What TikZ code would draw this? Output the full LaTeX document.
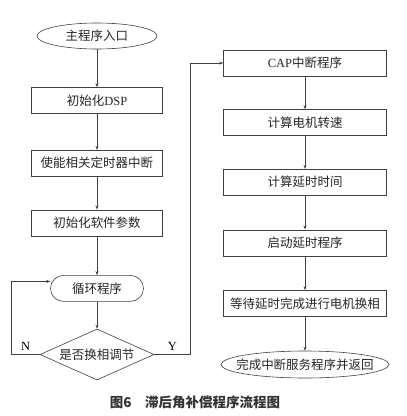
\documentclass[tikz,border=0pt]{standalone}
\usepackage{fontspec}
\setmainfont{Liberation Serif}
\newfontfamily\cjk{Noto Sans CJK SC}
\usetikzlibrary{
  shapes.geometric,
  arrows.meta,
  positioning
}
\tikzset{
  procnode/.style={rectangle,draw=black!75,line width=0.6pt,
    minimum width=131pt,minimum height=26pt,inner sep=2pt,
    font=\cjk\fontsize{12.5}{14}\selectfont,text=black!85},
  termnode/.style={ellipse,draw=black!75,line width=0.6pt,
    minimum width=120pt,minimum height=26pt,inner sep=0pt,
    font=\cjk\fontsize{12.5}{14}\selectfont,text=black!85},
  loopnode/.style={rectangle,rounded corners=13pt,draw=black!75,line width=0.6pt,
    minimum width=93pt,minimum height=26pt,inner sep=2pt,
    font=\cjk\fontsize{12.5}{14}\selectfont,text=black!85},
  decnode/.style={diamond,aspect=2.2,draw=black!75,line width=0.6pt,
    minimum width=114pt,minimum height=51pt,inner sep=0pt,
    font=\cjk\fontsize{12.5}{14}\selectfont,text=black!85},
  arr/.style={-{Stealth[length=4pt,width=3pt]},draw=black!75,line width=0.6pt}
}

\begin{document}
\begin{tikzpicture}[x=1pt,y=1pt,node distance=34pt]
  \useasboundingbox (0,0) rectangle (407,-416);

  % main program
  \node[termnode] (start) at (97,-36) {主程序入口};
  \node[procnode,below=38pt of start] (init) {初始化{\rmfamily DSP}};
  \node[procnode,below=36pt of init] (timer) {使能相关定时器中断};
  \node[procnode,below=33pt of timer] (param) {初始化软件参数};
  \node[loopnode,below=39pt of param] (loop) {循环程序};
  \node[decnode,below=27pt of loop] (dec) {是否换相调节};

  \draw[arr] (start) -- (init);
  \draw[arr] (init) -- (timer);
  \draw[arr] (timer) -- (param);
  \draw[arr] (param) -- (loop);
  \draw[arr] (loop) -- (dec);
  \draw[arr] (dec.west) -- ++(-28,0) node[midway,above,font=\fontsize{12.5}{14}\selectfont]{N}
    |- ([yshift=7pt]loop.west);

  % CAP interrupt
  \node[procnode,minimum width=163pt] (cap) at (305,-63) {{\rmfamily CAP}中断程序};
  \node[procnode,minimum width=163pt,below=33pt of cap] (speed) {计算电机转速};
  \node[procnode,minimum width=163pt,below=33pt of speed] (delay) {计算延时时间};
  \node[procnode,minimum width=163pt,below=34pt of delay] (run) {启动延时程序};
  \node[procnode,minimum width=163pt,below=34pt of run] (commut) {等待延时完成进行电机换相};
  \node[termnode,minimum width=168pt,minimum height=27pt,inner xsep=-14pt,below=34pt of commut] (ret) {完成中断服务程序并返回};

  \draw[arr] (dec.east) -- ++(36,0) node[midway,above,font=\fontsize{12.5}{14}\selectfont]{Y}
    |- (cap.west);
  \draw[arr] (cap) -- (speed);
  \draw[arr] (speed) -- (delay);
  \draw[arr] (delay) -- (run);
  \draw[arr] (run) -- (commut);
  \draw[arr] (commut) -- (ret);

  % caption
  \node[font=\cjk\bfseries\fontsize{13.5}{15}\selectfont,text=black!80] (title) at (195,-402)
    {图6\quad 滞后角补偿程序流程图};

\end{tikzpicture}
\end{document}
